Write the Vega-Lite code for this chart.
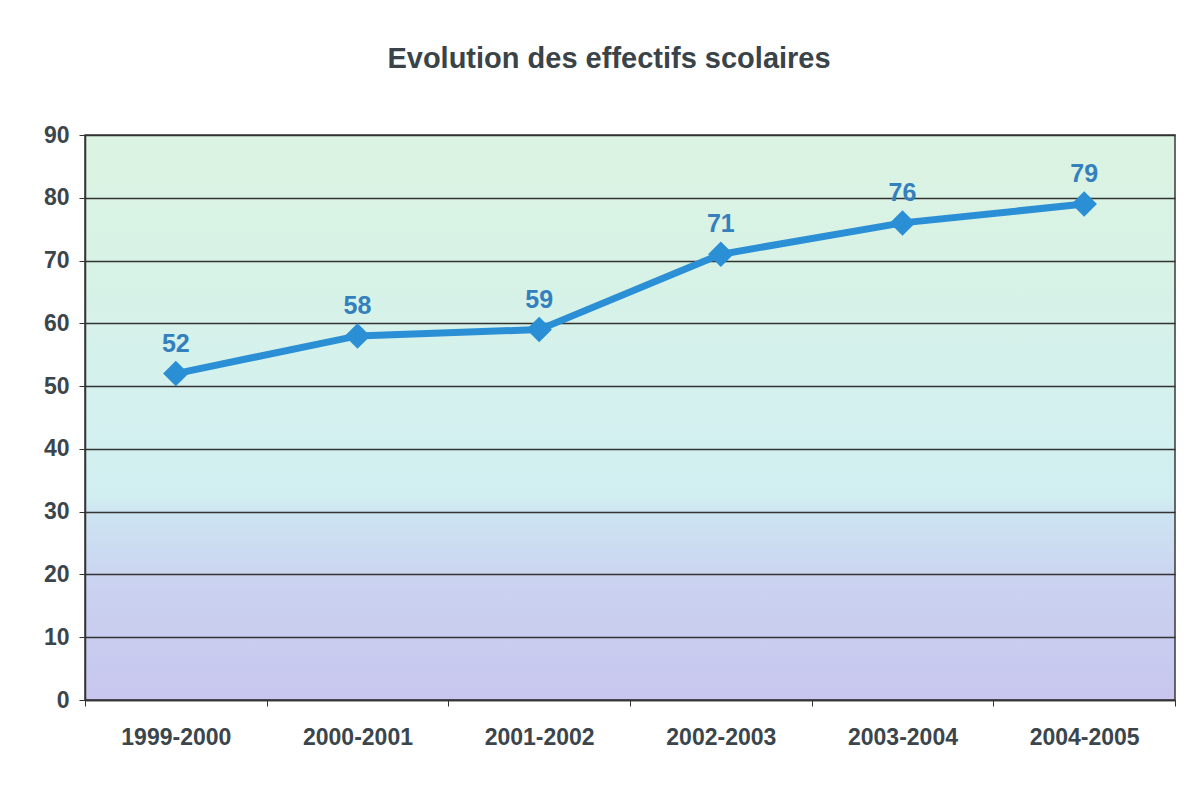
{
  "$schema": "https://vega.github.io/schema/vega-lite/v6.json",
  "width": 1090,
  "height": 565,
  "autosize": {"type": "none"},
  "padding": {"left": 85, "top": 135, "right": 21, "bottom": 91},
  "background": "#ffffff",
  "title": {
    "text": "Evolution des effectifs scolaires",
    "fontSize": 29,
    "font": "Liberation Sans",
    "fontWeight": "bold",
    "color": "#3a4448",
    "anchor": "middle",
    "dx": -21,
    "offset": 50
  },
  "data": {
    "values": [
      {"annee": "1999-2000", "effectif": 52},
      {"annee": "2000-2001", "effectif": 58},
      {"annee": "2001-2002", "effectif": 59},
      {"annee": "2002-2003", "effectif": 71},
      {"annee": "2003-2004", "effectif": 76},
      {"annee": "2004-2005", "effectif": 79}
    ]
  },
  "config": {
    "font": "Liberation Sans"
  },
  "view": {
    "stroke": "#3a3a3a",
    "strokeWidth": 1.5,
    "fill": {
      "gradient": "linear",
      "x1": 0, "y1": 1, "x2": 0, "y2": 0,
      "stops": [
        {"offset": 0, "color": "#c8c6ee"},
        {"offset": 0.2, "color": "#cad2f0"},
        {"offset": 0.33, "color": "#cde4f2"},
        {"offset": 0.36, "color": "#d1eff1"},
        {"offset": 0.55, "color": "#d4f1ee"},
        {"offset": 0.75, "color": "#d7f2e6"},
        {"offset": 1, "color": "#dbf3e2"}
      ]
    }
  },
  "layer": [
    {
      "mark": {"type": "line", "color": "#2b8fd6", "strokeWidth": 7},
      "encoding": {
        "x": {
          "field": "annee", "type": "nominal", "sort": null,
          "scale": {"paddingInner": 0, "paddingOuter": 0},
          "axis": {
            "title": null, "labelAngle": 0, "labelFontSize": 23, "labelFontWeight": "bold",
            "labelColor": "#3b464c", "labelPadding": 20, "tickBand": "extent",
            "tickSize": 6, "tickColor": "#333", "domainColor": "#333", "domainWidth": 1.5
          }
        },
        "y": {
          "field": "effectif", "type": "quantitative", "scale": {"domain": [0, 90]},
          "axis": {
            "title": null, "values": [0,10,20,30,40,50,60,70,80,90], "labelFontSize": 23,
            "labelFontWeight": "bold", "labelColor": "#3b464c", "labelPadding": 10,
            "tickSize": 6, "tickColor": "#333", "domainColor": "#333", "domainWidth": 1.5,
            "grid": true, "gridColor": "#333333", "gridWidth": 1.5, "gridOpacity": 1
          }
        }
      }
    },
    {
      "mark": {"type": "point", "shape": "diamond", "size": 650, "filled": true, "color": "#2b8fd6", "opacity": 1},
      "encoding": {
        "x": {"field": "annee", "type": "nominal", "sort": null},
        "y": {"field": "effectif", "type": "quantitative"}
      }
    },
    {
      "mark": {"type": "text", "fontSize": 25, "fontWeight": "bold", "color": "#3480bd", "dy": -30},
      "encoding": {
        "x": {"field": "annee", "type": "nominal", "sort": null},
        "y": {"field": "effectif", "type": "quantitative"},
        "text": {"field": "effectif", "type": "quantitative"}
      }
    }
  ]
}
